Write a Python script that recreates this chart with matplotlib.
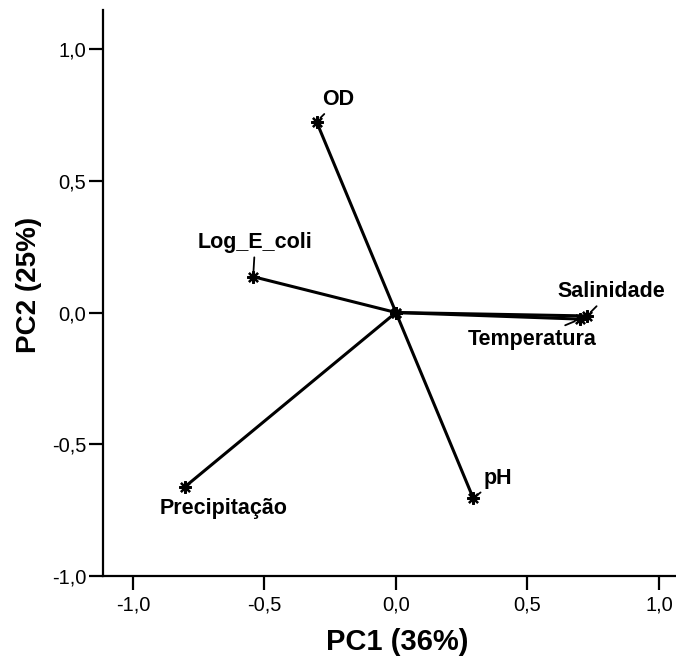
import numpy as np
import matplotlib.pyplot as plt
from matplotlib.ticker import FuncFormatter

plt.rcParams['font.family'] = ['Liberation Sans', 'DejaVu Sans']

# cargas das variaveis nas duas componentes
variaveis = ['OD', 'Log_E_coli', 'Salinidade', 'Temperatura', 'Precipitação', 'pH']
pc1 = [-0.302, -0.543, 0.726, 0.700, -0.802, 0.294]
pc2 = [0.724, 0.136, -0.013, -0.025, -0.661, -0.705]

# deslocamento dos rotulos (pixels) e se tem linha guia
desloc = [(22, 22), (2, 34), (24, 24), (-48, -20), (38, -22), (25, 20)]
guia = [True, True, True, True, False, True]

fig = plt.figure(figsize=(6.76, 6.68), dpi=100)
ax = fig.add_axes([0.1524, 0.1377, 0.8476, 0.8473])

for x, y in zip(pc1, pc2):
    ax.plot([0, x], [0, y], color='black', lw=2.2, solid_capstyle='butt', zorder=2)

estrela = (8, 2, 0)
ax.plot(pc1, pc2, ls='none', marker=estrela, ms=9, mew=1.6, color='black', zorder=3)
ax.plot([0], [0], ls='none', marker=estrela, ms=9, mew=1.8, color='black', zorder=3)

for nome, x, y, d, g in zip(variaveis, pc1, pc2, desloc, guia):
    ax.annotate(nome, (x, y), xytext=d, textcoords='offset pixels',
                ha='center', va='center', fontsize=15.5, fontweight='bold',
                arrowprops=dict(arrowstyle='-', color='black', lw=1.3,
                                shrinkA=1, shrinkB=4) if g else None)

ax.set_xlim(-1.114, 1.065)
ax.set_ylim(-1.0, 1.148)
ax.set_xticks([-1.0, -0.5, 0.0, 0.5, 1.0])
ax.set_yticks([-1.0, -0.5, 0.0, 0.5, 1.0])
virgula = FuncFormatter(lambda v, p: ('%.1f' % v).replace('.', ','))
ax.xaxis.set_major_formatter(virgula)
ax.yaxis.set_major_formatter(virgula)
ax.tick_params(direction='out', length=10, width=1.6, labelsize=14.5, pad=2)
ax.tick_params(axis='x', pad=4)

ax.spines['top'].set_visible(False)
ax.spines['right'].set_visible(False)
ax.spines['left'].set_linewidth(1.6)
ax.spines['bottom'].set_linewidth(1.6)

ax.set_xlabel('PC1 (36%)', fontsize=21, fontweight='bold')
ax.set_ylabel('PC2 (25%)', fontsize=20, fontweight='bold')
ax.xaxis.set_label_coords(0.513, -0.092)
ax.yaxis.set_label_coords(-0.106, 0.514)

fig.savefig('out.png', dpi=100)
